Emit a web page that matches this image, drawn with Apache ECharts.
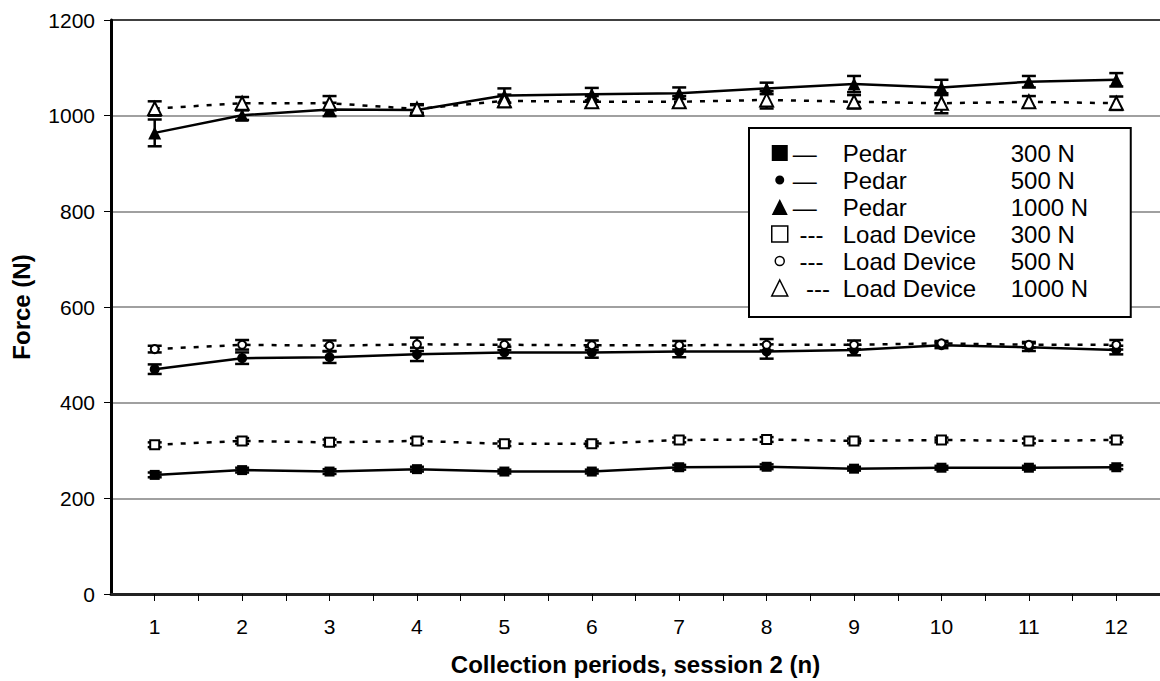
<!DOCTYPE html>
<html>
<head>
<meta charset="utf-8">
<title>Force by collection period</title>
<script src="https://cdn.jsdelivr.net/npm/echarts@6/dist/echarts.min.js"></script>
<style>
  html, body { margin: 0; padding: 0; background: #fff; }
  #main { width: 1160px; height: 681px; }
</style>
</head>
<body>
<div id="main"></div>
<script>
// collection periods (x axis)
var periods = [1, 2, 3, 4, 5, 6, 7, 8, 9, 10, 11, 12];
var yTicks = [0, 200, 400, 600, 800, 1000, 1200];

// Pedar insole readings
var pedar300 = [249, 259, 256, 261, 256, 256, 265, 266, 262, 264, 264, 265];
var pedar300Err = [5, 5, 5, 5, 4, 4, 5, 5, 4, 4, 4, 4];
var pedar500 = [470, 493, 495, 501, 505, 505, 507, 507, 510, 520, 516, 510];
var pedar500Err = [10, 12, 12, 14, 12, 11, 12, 15, 11, 6, 8, 9];
var pedar1000 = [964, 1001, 1013, 1012, 1042, 1045, 1047, 1057, 1066, 1059, 1071, 1075];
var pedar1000Err = [28, 10, 14, 12, 15, 13, 12, 12, 17, 16, 12, 14];

// load device readings
var load300 = [312, 320, 317, 320, 314, 314, 322, 323, 320, 322, 320, 322];
var load300Err = [5, 6, 6, 6, 5, 5, 5, 5, 5, 5, 5, 5];
var load500 = [512, 521, 519, 522, 521, 520, 520, 521, 521, 524, 521, 521];
var load500Err = [7, 10, 11, 14, 11, 10, 9, 12, 9, 5, 6, 10];
var load1000 = [1015, 1026, 1026, 1014, 1031, 1029, 1029, 1033, 1029, 1026, 1029, 1026];
var load1000Err = [15, 13, 15, 8, 13, 12, 12, 18, 14, 21, 12, 14];

var FONT = 'Arial, "Liberation Sans", sans-serif';

function pairs(vals) {
  return periods.map(function (p, i) { return [p, vals[i]]; });
}

function errData(vals, errs) {
  return periods.map(function (p, i) { return [p, vals[i] - errs[i], vals[i] + errs[i]]; });
}

// error bar with caps
function renderErr(params, api) {
  var top = api.coord([api.value(0), api.value(2)]);
  var bot = api.coord([api.value(0), api.value(1)]);
  var hw = 7;
  var st = { stroke: '#000', lineWidth: 2.5 };
  return {
    type: 'group',
    children: [
      { type: 'line', shape: { x1: top[0], y1: top[1], x2: bot[0], y2: bot[1] }, style: st },
      { type: 'line', shape: { x1: top[0] - hw, y1: top[1], x2: top[0] + hw, y2: top[1] }, style: st },
      { type: 'line', shape: { x1: bot[0] - hw, y1: bot[1], x2: bot[0] + hw, y2: bot[1] }, style: st }
    ]
  };
}

function errSeries(vals, errs) {
  return {
    type: 'custom',
    renderItem: renderErr,
    data: errData(vals, errs),
    encode: { x: 0, y: [1, 2] },
    z: 2,
    silent: true
  };
}

function lineSeries(name, vals, symbol, size, hollow) {
  return {
    name: name,
    type: 'line',
    data: pairs(vals),
    symbol: symbol,
    symbolSize: size,
    showAllSymbol: true,
    z: 3,
    lineStyle: { color: '#000', width: 2.5, type: hollow ? [5, 8] : 'solid' },
    itemStyle: hollow ? { color: '#fff', borderColor: '#000', borderWidth: 2 } : { color: '#000' },
    emphasis: { disabled: true }
  };
}

var smallCircle = 'path://M0,0M16,16M3.5,8a4.5,4.5 0 1,0 9,0a4.5,4.5 0 1,0 -9,0Z';
var filled = { color: '#000', borderWidth: 0 };
var hollowStyle = { color: '#fff', borderColor: '#000', borderWidth: 1.5 };

var legendLabels = {
  'P300': ['—', 'Pedar', '300 N'],
  'P500': ['—', 'Pedar', '500 N'],
  'P1000': ['—', 'Pedar', '1000 N'],
  'L300': [' ---', 'Load Device', '300 N'],
  'L500': [' ---', 'Load Device', '500 N'],
  'L1000': ['  ---', 'Load Device', '1000 N']
};

var chart = echarts.init(document.getElementById('main'), null, { renderer: 'svg' });

var option = {
  backgroundColor: '#fff',
  animation: false,
  textStyle: { fontFamily: FONT },
  grid: { left: 111, right: 0, top: 20, bottom: 87, outerBoundsMode: 'none', containLabel: false },
  legend: {
    orient: 'vertical',
    left: 749,
    top: 128,
    padding: [13, 20, 17, 22],
    backgroundColor: '#fff',
    borderColor: '#000',
    borderWidth: 2,
    borderRadius: 0,
    itemWidth: 16,
    itemHeight: 16,
    itemGap: 3,
    selectedMode: false,
    z: 10,
    data: [
      { name: 'P300', icon: 'rect', itemStyle: filled },
      { name: 'P500', icon: smallCircle, itemStyle: filled },
      { name: 'P1000', icon: 'triangle', itemStyle: filled },
      { name: 'L300', icon: 'rect', itemStyle: hollowStyle },
      { name: 'L500', icon: smallCircle, itemStyle: hollowStyle },
      { name: 'L1000', icon: 'triangle', itemStyle: hollowStyle }
    ],
    formatter: function (name) {
      var t = legendLabels[name];
      return '{d|' + t[0] + '}{n|' + t[1] + '}{v|' + t[2] + '}';
    },
    textStyle: {
      fontFamily: FONT,
      fontSize: 24,
      color: '#000',
      lineHeight: 24,
      rich: {
        d: { width: 50, fontSize: 24, fontFamily: FONT, color: '#000' },
        n: { width: 168, fontSize: 24, fontFamily: FONT, color: '#000' },
        v: { width: 100, fontSize: 24, fontFamily: FONT, color: '#000' }
      }
    }
  },
  xAxis: {
    type: 'value',
    min: 0.5,
    max: 12.5,
    interval: 0.5,
    name: 'Collection periods, session 2 (n)',
    nameLocation: 'middle',
    nameGap: 58,
    nameTextStyle: { fontFamily: FONT, fontSize: 24, fontWeight: 'bold', color: '#000' },
    axisLine: { lineStyle: { color: '#222', width: 3 } },
    axisTick: { show: true, length: 7, lineStyle: { color: '#000', width: 1 } },
    axisLabel: {
      margin: 22,
      fontSize: 21,
      fontFamily: FONT,
      color: '#000',
      showMinLabel: false,
      showMaxLabel: false,
      formatter: function (v) {
        return periods.indexOf(v) >= 0 ? String(v) : '';
      }
    },
    splitLine: { show: false }
  },
  yAxis: {
    type: 'value',
    min: yTicks[0],
    max: yTicks[yTicks.length - 1],
    interval: 200,
    name: 'Force (N)',
    nameLocation: 'middle',
    nameGap: 78,
    nameTextStyle: { fontFamily: FONT, fontSize: 24, fontWeight: 'bold', color: '#000' },
    axisLine: { show: true, lineStyle: { color: '#000', width: 3 } },
    axisTick: { show: true, length: 7, lineStyle: { color: '#000', width: 1 } },
    axisLabel: {
      margin: 16,
      fontSize: 21,
      fontFamily: FONT,
      color: '#000',
      formatter: function (v) { return String(v); }
    },
    splitLine: {
      show: true,
      lineStyle: { color: ['#808080', '#808080', '#808080', '#808080', '#808080', '#808080', '#000'], width: 1.5 }
    }
  },
  series: [
    errSeries(pedar300, pedar300Err),
    errSeries(load300, load300Err),
    errSeries(pedar500, pedar500Err),
    errSeries(load500, load500Err),
    errSeries(pedar1000, pedar1000Err),
    errSeries(load1000, load1000Err),
    lineSeries('P300', pedar300, 'rect', 10, false),
    lineSeries('P500', pedar500, 'circle', 10, false),
    lineSeries('P1000', pedar1000, 'triangle', 13, false),
    lineSeries('L300', load300, 'rect', 9, true),
    lineSeries('L500', load500, 'circle', 8, true),
    lineSeries('L1000', load1000, 'triangle', 13, true)
  ]
};

chart.setOption(option);
</script>
</body>
</html>
